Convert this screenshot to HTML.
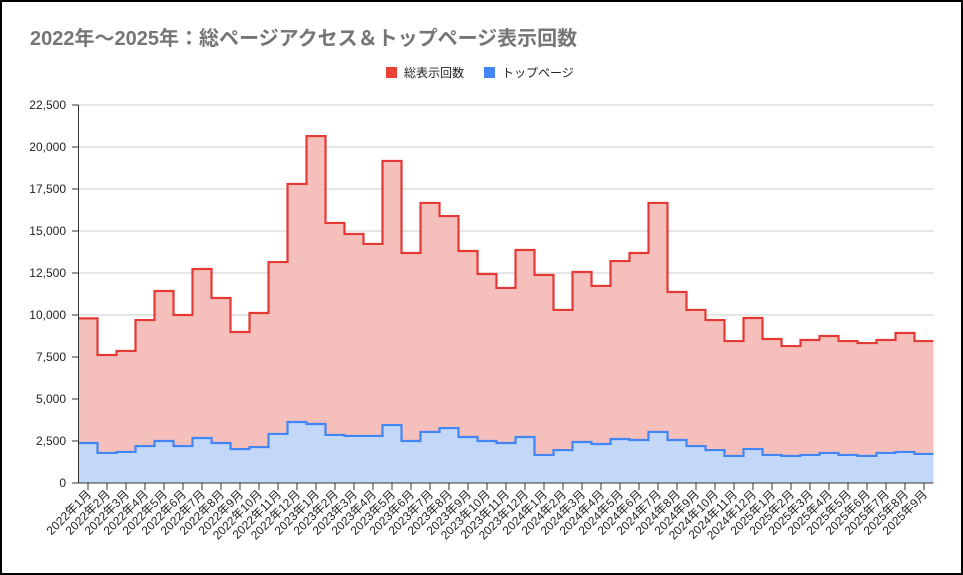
<!DOCTYPE html>
<html><head><meta charset="utf-8"><style>
html,body{margin:0;padding:0;background:#fff}
#w{width:959px;height:571px;border:2px solid #000;position:relative;overflow:hidden}
svg{position:absolute;left:-2px;top:-2px}
text{font-family:"Liberation Sans","Noto Sans CJK JP",sans-serif}
</style></head><body><div id="w">
<svg id="s" width="963" height="575" xmlns="http://www.w3.org/2000/svg">
<text x="30" y="45" font-size="20" font-weight="bold" fill="#757575">2022年～2025年：総ページアクセス＆トップページ表示回数</text>
<rect x="386" y="67" width="11" height="11" fill="#ea4335"/>
<text x="404" y="77" font-size="12" fill="#222">総表示回数</text>
<rect x="484" y="67" width="11" height="11" fill="#4285f4"/>
<text x="502" y="77" font-size="12" fill="#222">トップページ</text>
</svg></div>
<script>
const s=document.getElementById('s'),NS='http://www.w3.org/2000/svg';
function el(t,a,txt){const e=document.createElementNS(NS,t);for(const k in a)e.setAttribute(k,a[k]);if(txt!=null)e.textContent=txt;s.appendChild(e);return e;}
const red=[9800,7620,7860,9700,11430,10000,12740,11010,8990,10120,13150,17800,20650,15480,14820,14230,19170,13690,16670,15890,13810,12440,11610,13870,12380,10300,12560,11730,13210,13690,16670,11370,10300,9700,8450,9820,8570,8150,8510,8750,8450,8330,8510,8930,8450];
const blue=[2380,1790,1850,2200,2500,2200,2680,2380,2020,2140,2920,3630,3510,2860,2800,2800,3450,2500,3040,3270,2740,2500,2380,2740,1670,1960,2440,2320,2620,2560,3040,2560,2200,1960,1610,2020,1670,1610,1670,1790,1670,1610,1790,1850,1730];
const x0=78.5,st=19,y0=483,k=378/22500;
const Y=v=>y0-v*k;
for(let i=0;i<=9;i++){const v=i*2500,y=Y(v);
 if(i>0)el('line',{x1:x0,x2:933.5,y1:y,y2:y,stroke:'#cccccc','stroke-width':1});
 el('text',{x:66,y:y+4,'font-size':12,'text-anchor':'end',fill:'#222'},v.toLocaleString('en-US'));
 el('line',{x1:72,x2:x0,y1:y,y2:y,stroke:'#333'});}
function path(d){let p='M'+x0+','+Y(d[0]);d.forEach((v,i)=>{p+=' L'+(x0+i*st)+','+Y(v)+' L'+(x0+(i+1)*st)+','+Y(v);});return p;}
[[red,'#f5c0bc'],[blue,'#c3d7f8']].forEach(([d,f])=>{
 const p=path(d);el('path',{d:p+' L'+(x0+45*st)+','+y0+' L'+x0+','+y0+' Z',fill:f,stroke:'none'});});
[[red,'#e53935'],[blue,'#4285f4']].forEach(([d,c])=>el('path',{d:path(d),fill:'none',stroke:c,'stroke-width':2.2}));
el('line',{x1:x0,x2:x0,y1:105,y2:y0,stroke:'#333'});
el('line',{x1:x0,x2:933.5,y1:y0,y2:y0,stroke:'#333'});
for(let i=0;i<45;i++){const cx=x0+st*(i+0.5);
 el('line',{x1:cx,x2:cx,y1:y0,y2:y0+7,stroke:'#333'});
 const yr=2022+Math.floor(i/12),m=i%12+1;
 el('text',{x:cx+4,y:y0+12,'font-size':12,'text-anchor':'end',fill:'#222',transform:`rotate(-45 ${cx+4} ${y0+12})`},yr+'年'+m+'月');}
</script></body></html>
